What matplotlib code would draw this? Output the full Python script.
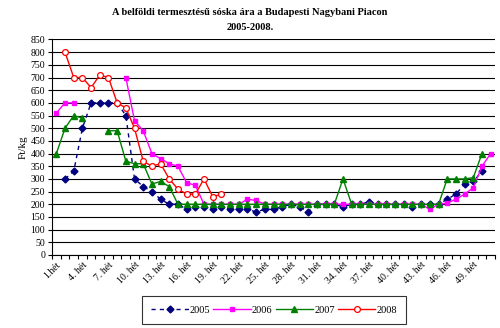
import numpy as np
import matplotlib
matplotlib.use('Agg')
import matplotlib.pyplot as plt
from matplotlib.ticker import FixedLocator, MultipleLocator

nan = np.nan
weeks = np.arange(1, 52)

# Ft/kg values per week (nan = no data)
y2005 = [nan, 300, 330, 500, 600, 600, 600, 600, 550, 300,
         270, 250, 220, 200, 200, 180, 190, 190, 180, 190,
         180, 180, 180, 170, 180, 180, 190, 200, 190, 170,
         200, 200, 200, 190, 200, 200, 210, 200, 200, 200,
         200, 190, 200, 200, 200, 220, 240, 280, 290, 330, nan]
y2006 = [560, 600, 600, nan, nan, nan, nan, nan, 700, 530,
         490, 400, 380, 360, 350, 285, 275, 200, 200, 200,
         200, 200, 220, 215, 200, 200, 200, 200, 200, 200,
         200, 200, 200, 200, 200, 200, 200, 200, 200, 200,
         200, 200, 200, 180, 200, 205, 220, 240, 265, 350, 400]
y2007 = [400, 500, 550, 540, nan, nan, 490, 490, 370, 360,
         360, 280, 290, 270, 200, 200, 200, 200, 200, 200,
         200, 200, 200, 200, 200, 200, 200, 200, 200, 200,
         200, 200, 200, 300, 200, 200, 200, 200, 200, 200,
         200, 200, 200, 200, 200, 300, 300, 300, 305, 400, nan]
y2008 = [nan, 800, 700, 700, 660, 710, 700, 600, 580, 500,
         370, 350, 360, 300, 260, 240, 240, 300, 230, 240] + [nan] * 31

tick_weeks = list(range(1, 50, 3))
tick_labels = ['1.hét'] + [f'{w}. hét' for w in tick_weeks[1:]]

plt.rcParams['font.family'] = 'Liberation Serif'

fig = plt.figure(figsize=(5, 3.28), dpi=100)
ax = fig.add_axes([0.104, 0.2226, 0.886, 0.657])

ax.plot(weeks, y2005, color='#000080', lw=1.0, dashes=(3, 3), marker='D',
        ms=3.5, mfc='#000080', mec='#000080', label='2005')
ax.plot(weeks, y2006, color='#FF00FF', lw=1.0, marker='s', ms=3.5,
        mfc='#FF00FF', mec='#FF00FF', label='2006')
ax.plot(weeks, y2007, color='#008000', lw=1.0, marker='^', ms=4,
        mfc='#008000', mec='#008000', label='2007')
ax.plot(weeks, y2008, color='#FF0000', lw=1.0, marker='o', ms=4.2,
        mfc='white', mec='#FF0000', mew=0.9, label='2008')

ax.set_xlim(0.5, 51.5)
ax.set_ylim(0, 850)
ax.yaxis.set_major_locator(MultipleLocator(50))
ax.grid(axis='y', color='black', lw=0.8)
ax.set_axisbelow(True)

ax.xaxis.set_major_locator(FixedLocator(tick_weeks))
ax.set_xticklabels(tick_labels, rotation=45, ha='right', va='top',
                   rotation_mode='anchor', fontsize=7)
ax.xaxis.set_minor_locator(FixedLocator(np.arange(0.5, 52, 1)))
ax.tick_params(axis='x', which='major', length=0, pad=4)
ax.tick_params(axis='x', which='minor', length=3, width=0.8)
ax.tick_params(axis='y', length=3, width=0.8, labelsize=7, pad=2)

for s in ['top', 'right']:
    ax.spines[s].set_visible(False)
for s in ['left', 'bottom']:
    ax.spines[s].set_linewidth(0.8)

ax.set_ylabel('Ft/kg', fontsize=8, labelpad=2)
fig.text(0.5, 0.962, 'A belföldi termesztésű sóska ára a Budapesti Nagybani Piacon',
         ha='center', va='center', fontsize=7.5, fontweight='bold')
fig.text(0.5, 0.915, '2005-2008.', ha='center', va='center',
         fontsize=7.5, fontweight='bold')

leg = fig.legend(loc='center', bbox_to_anchor=(0.548, 0.055), ncol=4,
                 fontsize=7.5, frameon=True, fancybox=False, edgecolor='black',
                 handlelength=3.6, columnspacing=0.3, handletextpad=0.1,
                 borderpad=0.9, borderaxespad=0)
leg.get_frame().set_linewidth(0.8)

fig.savefig('out.png', dpi=100)
